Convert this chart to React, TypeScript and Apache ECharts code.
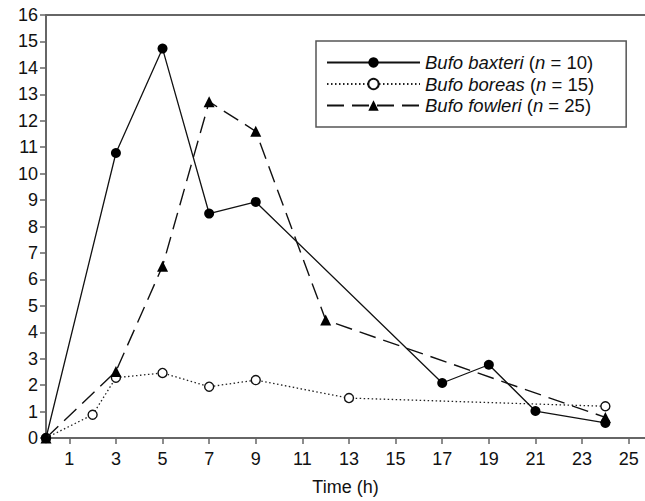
import React, { useEffect, useRef } from "react";
import * as echarts from "echarts";

const xTickValues = [1, 3, 5, 7, 9, 11, 13, 15, 17, 19, 21, 23, 25];
const yTickValues = [0, 1, 2, 3, 4, 5, 6, 7, 8, 9, 10, 11, 12, 13, 14, 15, 16];

const seriesNames = ["Bufo baxteri", "Bufo boreas", "Bufo fowleri"];
const sampleSizes = [10, 15, 25];

const baxteriTime = [0, 3, 5, 7, 9, 17, 19, 21, 24];
const baxteriValue = [0, 10.78, 14.73, 8.49, 8.93, 2.08, 2.77, 1.02, 0.57];

const boreasTime = [0, 2, 3, 5, 7, 9, 13, 24];
const boreasValue = [0, 0.88, 2.28, 2.46, 1.94, 2.19, 1.51, 1.2];

const fowleriTime = [0, 3, 5, 7, 9, 12, 24];
const fowleriValue = [0, 2.52, 6.5, 12.72, 11.6, 4.46, 0.78];

const FONT = "Liberation Sans, Arial, Helvetica, sans-serif";
const AXIS_COLOR = "#666";

function pairs(xs: number[], ys: number[]) {
  return xs.map((x, i) => [x, ys[i]]);
}

export default function App() {
  const ref = useRef<HTMLDivElement>(null);

  useEffect(() => {
    document.body.style.margin = "0";
    if (!ref.current) return;
    const chart = echarts.init(ref.current, null, { renderer: "svg" });
    const option: any = {
      animation: false,
      backgroundColor: "#fff",
      textStyle: { fontFamily: FONT },
      grid: { left: 46, right: 0, top: 15, bottom: 62, containLabel: false },
      legend: {
        orient: "vertical",
        left: 316,
        top: 41,
        padding: [11, 32, 11, 10],
        borderColor: "#555",
        borderWidth: 1.5,
        borderRadius: 0,
        backgroundColor: "#fff",
        itemWidth: 93,
        itemHeight: 13,
        itemGap: 0.5,
        data: seriesNames,
        formatter: (name: string) => {
          const i = seriesNames.indexOf(name);
          return `{i|${name}} ({i|n} = ${sampleSizes[i]})`;
        },
        textStyle: {
          fontFamily: FONT,
          fontSize: 18.5,
          color: "#111",
          lineHeight: 21,
          rich: {
            i: { fontStyle: "italic", fontFamily: FONT, fontSize: 18.5, color: "#111", lineHeight: 21 },
          },
        },
      },
      xAxis: [
        {
          type: "value",
          min: 0,
          max: 25.7,
          position: "bottom",
          name: "Time (h)",
          nameLocation: "middle",
          nameGap: 40,
          nameTextStyle: { fontFamily: FONT, fontSize: 18, color: "#111" },
          splitLine: { show: false },
          axisLine: { show: true, onZero: false, lineStyle: { color: AXIS_COLOR, width: 2 } },
          axisTick: {
            show: true,
            inside: false,
            length: 6,
            customValues: xTickValues,
            lineStyle: { color: AXIS_COLOR, width: 1.5 },
          },
          axisLabel: {
            show: true,
            customValues: xTickValues,
            margin: 12,
            fontFamily: FONT,
            fontSize: 18,
            color: "#111",
            showMinLabel: true,
            showMaxLabel: true,
          },
        },
        {
          type: "value",
          min: 0,
          max: 25.7,
          position: "top",
          splitLine: { show: false },
          axisLine: { show: true, onZero: false, lineStyle: { color: AXIS_COLOR, width: 2 } },
          axisTick: { show: false },
          axisLabel: { show: false },
        },
      ],
      yAxis: {
        type: "value",
        min: 0,
        max: 16,
        interval: 1,
        splitLine: { show: false },
        axisLine: { show: true, onZero: false, lineStyle: { color: AXIS_COLOR, width: 2 } },
        axisTick: {
          show: true,
          inside: false,
          length: 6,
          customValues: yTickValues,
          lineStyle: { color: AXIS_COLOR, width: 1.5 },
        },
        axisLabel: {
          customValues: yTickValues,
          margin: 8,
          fontFamily: FONT,
          fontSize: 18,
          color: "#111",
          showMinLabel: true,
          showMaxLabel: true,
        },
      },
      series: [
        {
          name: seriesNames[0],
          type: "line",
          xAxisIndex: 0,
          data: pairs(baxteriTime, baxteriValue),
          symbol: "circle",
          symbolSize: 10,
          lineStyle: { color: "#111", width: 1.3, type: "solid" },
          itemStyle: { color: "#000", borderColor: "#000", borderWidth: 0 },
          z: 3,
        },
        {
          name: seriesNames[1],
          type: "line",
          xAxisIndex: 0,
          data: pairs(boreasTime, boreasValue),
          symbol: "circle",
          symbolSize: 9,
          showAllSymbol: true,
          lineStyle: { color: "#222", width: 1.3, type: [1.5, 2.5] },
          itemStyle: { color: "#fff", borderColor: "#111", borderWidth: 1.4 },
          z: 2,
        },
        {
          name: seriesNames[2],
          type: "line",
          xAxisIndex: 0,
          data: pairs(fowleriTime, fowleriValue),
          symbol: "triangle",
          symbolSize: 11,
          lineStyle: { color: "#111", width: 1.4, type: [17, 8] },
          itemStyle: { color: "#000", borderColor: "#000", borderWidth: 0 },
          z: 4,
        },
      ],
    };
    chart.setOption(option);
    return () => chart.dispose();
  }, []);

  return <div ref={ref} style={{ width: 645, height: 501 }} />;
}
